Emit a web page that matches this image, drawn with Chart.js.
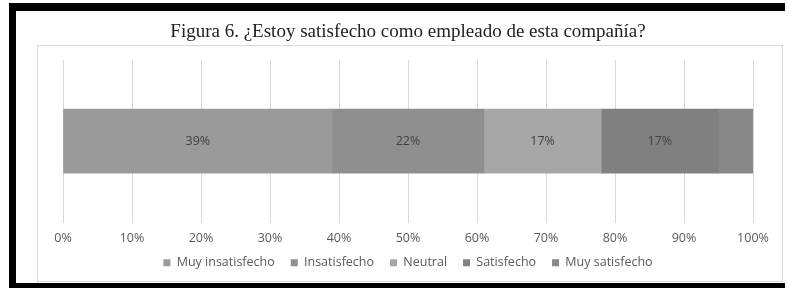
<!DOCTYPE html>
<html>
<head>
<meta charset="utf-8">
<script src="https://cdn.jsdelivr.net/npm/chart.js@4"></script>
<style>
  html, body { margin: 0; padding: 0; background: #fff; }
  body { width: 791px; height: 293px; position: relative; overflow: hidden; }
  #frame {
    position: absolute; left: 9px; top: 3px; width: 776px; height: 285px;
    border-top: 8px solid #000; border-left: 7px solid #000; border-bottom: 5px solid #000;
    box-sizing: border-box;
  }
  #box {
    position: absolute; left: 37px; top: 45px; width: 746px; height: 237px;
    border: 1px solid #d9d9d9; box-sizing: border-box;
  }
  #wrap { position: absolute; left: 16px; top: 11px; width: 775px; height: 277px; }
</style>
</head>
<body>
<div id="frame"></div>
<div id="box"></div>
<div id="wrap"><canvas id="chart"></canvas></div>
<script>
const categories = [''];
const seriesNames = ['Muy insatisfecho', 'Insatisfecho', 'Neutral', 'Satisfecho', 'Muy satisfecho'];
const seriesValues = [39, 22, 17, 17, 5];
const seriesLabels = ['39%', '22%', '17%', '17%', ''];
const seriesColors = ['#9a9a9a', '#8f8f8f', '#a7a7a7', '#808080', '#888888'];
const xTicks = [0, 10, 20, 30, 40, 50, 60, 70, 80, 90, 100];

const segmentLabels = {
  id: 'segmentLabels',
  afterDatasetsDraw(chart) {
    const ctx = chart.ctx;
    ctx.save();
    ctx.font = '12.5px "Open Sans"';
    ctx.fillStyle = '#404040';
    ctx.textAlign = 'center';
    ctx.textBaseline = 'middle';
    chart.data.datasets.forEach((ds, i) => {
      const bar = chart.getDatasetMeta(i).data[0];
      if (!ds.valueLabel) return;
      ctx.fillText(ds.valueLabel, (bar.x + bar.base) / 2, bar.y);
    });
    ctx.restore();
  }
};

// pull the legend up closer to the tick labels
const legendRaise = {
  id: 'legendRaise',
  afterLayout(chart) {
    chart.legend.top -= 13;
    chart.legend.bottom -= 13;
  }
};

new Chart(document.getElementById('chart'), {
  type: 'bar',
  data: {
    labels: categories,
    datasets: seriesNames.map((name, i) => ({
      label: name,
      data: [seriesValues[i]],
      valueLabel: seriesLabels[i],
      backgroundColor: seriesColors[i],
      barThickness: 64,
    })),
  },
  options: {
    indexAxis: 'y',
    responsive: true,
    maintainAspectRatio: false,
    animation: false,
    layout: { padding: { left: 47, right: 38, top: 0, bottom: -4 } },
    scales: {
      x: {
        stacked: true,
        min: 0,
        max: 100,
        afterBuildTicks(axis) { axis.ticks = xTicks.map(v => ({ value: v })); },
        grid: { color: '#d9d9d9', drawTicks: false },
        border: { display: false },
        ticks: {
          padding: 8,
          color: '#595959',
          font: { family: 'Open Sans', size: 12.5 },
          callback: v => v + '%',
        },
      },
      y: { stacked: true, display: false },
    },
    plugins: {
      title: {
        display: true,
        text: 'Figura 6. ¿Estoy satisfecho como empleado de esta compañía?',
        color: '#222222',
        font: { family: 'Liberation Serif', size: 19, weight: 'normal' },
        padding: { top: 10, bottom: 16 },
      },
      legend: {
        position: 'bottom',
        labels: {
          boxWidth: 7,
          boxHeight: 7,
          padding: 16,
          color: '#595959',
          font: { family: 'Open Sans', size: 12.5 },
        },
      },
      tooltip: { enabled: false },
    },
  },
  plugins: [segmentLabels, legendRaise],
});
</script>
</body>
</html>
